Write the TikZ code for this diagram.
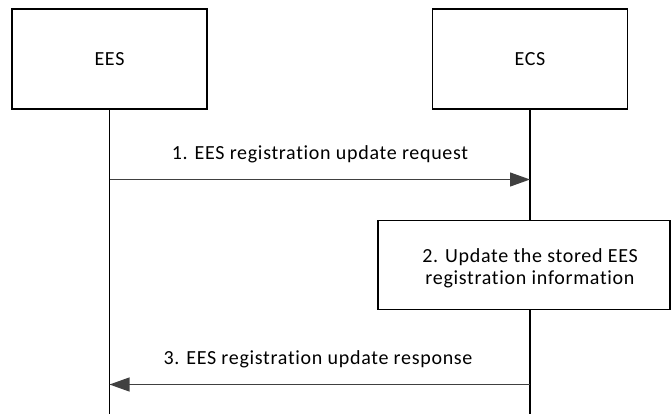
\documentclass[tikz,border=0pt]{standalone}
\usepackage{fontspec}
\setmainfont{Carlito}[Ligatures={NoCommon},LetterSpace=3.5]
\usetikzlibrary{arrows.meta}
\begin{document}
\begin{tikzpicture}[x=1pt,y=-1pt,
  actor/.style={draw=black,line width=1.5pt,fill=white,minimum width=195pt,minimum height=100pt,inner sep=0pt,font=\fontsize{20}{20}\selectfont},
  lifeline/.style={draw=black,line width=1.5pt},
  msg/.style={draw=black!75,line width=1.2pt,-{Triangle[length=20pt,width=14pt]}},
  lbl/.style={font=\fontsize{20}{20}\selectfont,inner sep=0pt},
  procbox/.style={draw=black,line width=1.5pt,fill=white,minimum width=292pt,minimum height=89pt,inner sep=0pt},
  proctext/.style={font=\fontsize{20}{22}\selectfont,align=center,inner sep=0pt}]
\useasboundingbox (0,0) rectangle (671,414);
\coordinate (eesbot) at (109.5,414);
\coordinate (ecsbot) at (530,414);
\draw[lifeline] (109.5,109) -- (eesbot);
\draw[lifeline] (530,109) -- (ecsbot);
\node[actor] (ees) at (109.5,59) {EES};
\node[actor] (ecs) at (530,59) {ECS};
\coordinate (m1s) at (109.5,179.5);
\coordinate (m1e) at (530,179.5);
\draw[msg] (m1s) -- (m1e);
\node[lbl] (l1) at (320,154) {1. EES registration update request};
\node[procbox] (p2) at (524,265) {};
\node[proctext] (p2t) at (530,268) {2. Update the stored EES\\registration information};
\coordinate (m3s) at (530,384.5);
\coordinate (m3e) at (109.5,384.5);
\draw[msg] (m3s) -- (m3e);
\node[lbl] (l3) at (318,359) {3. EES registration update response};
\end{tikzpicture}
\end{document}
